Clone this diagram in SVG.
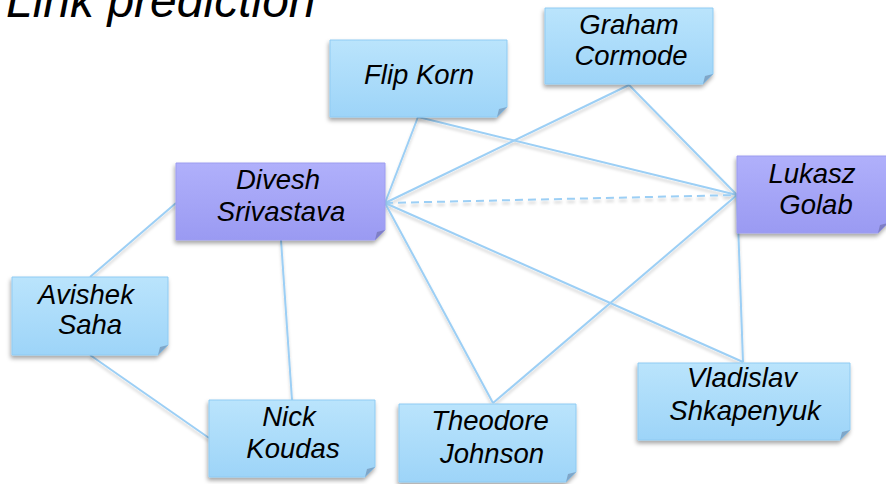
<svg xmlns="http://www.w3.org/2000/svg" width="886" height="484" viewBox="0 0 886 484">
  <defs>
    <linearGradient id="gBlue" x1="0" y1="0" x2="0" y2="1">
      <stop offset="0" stop-color="#bae4fc"/>
      <stop offset="1" stop-color="#9dd4f8"/>
    </linearGradient>
    <linearGradient id="gPurple" x1="0" y1="0" x2="0" y2="1">
      <stop offset="0" stop-color="#b0b0fb"/>
      <stop offset="1" stop-color="#9a9af2"/>
    </linearGradient>
    <filter id="boxShadow" x="-10%" y="-10%" width="120%" height="130%">
      <feDropShadow dx="-1" dy="3" stdDeviation="2" flood-color="#000" flood-opacity="0.35"/>
    </filter>
    <filter id="lineShadow" x="-5%" y="-5%" width="110%" height="115%">
      <feDropShadow dx="0" dy="3" stdDeviation="1.5" flood-color="#000" flood-opacity="0.18"/>
    </filter>
  </defs>
  <style>
    .edge { stroke: #9ccff5; stroke-width: 2; fill: none; }
    .dash { stroke-dasharray: 8 5; }
    .blue { fill: url(#gBlue); stroke: #8fcbf3; stroke-width: 1; filter: url(#boxShadow); }
    .purple { fill: url(#gPurple); stroke: #9c9cf0; stroke-width: 1; filter: url(#boxShadow); }
    .foldB { fill: #7fa6c8; }
    .foldP { fill: #7f7fc4; }
    .label { font-family: "Liberation Sans", Arial, sans-serif; font-style: italic; font-size: 27.5px; fill: #000; text-anchor: middle; }
    .title { font-family: "Liberation Sans", Arial, sans-serif; font-style: italic; font-size: 48px; fill: #000; }
  </style>

  <rect width="886" height="484" fill="#fff"/>

  <text class="title" x="6" y="17">Link prediction</text>

  <g id="connectors" filter="url(#lineShadow)">
    <line class="edge" x1="385" y1="203" x2="418" y2="117"/>
    <line class="edge" x1="385" y1="203" x2="629" y2="85"/>
    <line class="edge dash" x1="385" y1="203" x2="737" y2="195"/>
    <line class="edge" x1="385" y1="203" x2="493" y2="403"/>
    <line class="edge" x1="385" y1="203" x2="743" y2="362"/>
    <line class="edge" x1="418" y1="117" x2="737" y2="195"/>
    <line class="edge" x1="629" y1="85" x2="737" y2="195"/>
    <line class="edge" x1="737" y1="195" x2="743" y2="362"/>
    <line class="edge" x1="493" y1="403" x2="737" y2="195"/>
    <line class="edge" x1="176" y1="203" x2="90" y2="277"/>
    <line class="edge" x1="281" y1="240" x2="292" y2="400"/>
    <line class="edge" x1="90" y1="355" x2="209" y2="438"/>
  </g>

  <g id="flip-korn">
    <path class="blue" d="M330,40 H507 V107 L497,117 H330 Z"/>
    <path class="foldB" d="M507,107 L497,117 L499,109 Z"/>
    <text class="label" x="419" y="84">Flip Korn</text>
  </g>

  <g id="graham-cormode">
    <path class="blue" d="M545,8 H713 V74 L703,84 H545 Z"/>
    <path class="foldB" d="M713,74 L703,84 L705,76 Z"/>
    <text class="label" x="629" y="34">Graham</text>
    <text class="label" x="631" y="65">Cormode</text>
  </g>

  <g id="divesh-srivastava">
    <path class="purple" d="M176,163 H385 V230 L375,240 H176 Z"/>
    <path class="foldP" d="M385,230 L375,240 L377,232 Z"/>
    <text class="label" x="278" y="189">Divesh</text>
    <text class="label" x="281" y="221">Srivastava</text>
  </g>

  <g id="lukasz-golab">
    <path class="purple" d="M737,156 H888 V223 L878,233 H737 Z"/>
    <path class="foldP" d="M888,223 L878,233 L880,225 Z"/>
    <text class="label" x="812" y="183">Lukasz</text>
    <text class="label" x="816" y="214">Golab</text>
  </g>

  <g id="avishek-saha">
    <path class="blue" d="M12,277 H168 V345 L158,355 H12 Z"/>
    <path class="foldB" d="M168,345 L158,355 L160,347 Z"/>
    <text class="label" x="86" y="304">Avishek</text>
    <text class="label" x="90" y="334">Saha</text>
  </g>

  <g id="nick-koudas">
    <path class="blue" d="M209,400 H375 V467 L365,477 H209 Z"/>
    <path class="foldB" d="M375,467 L365,477 L367,469 Z"/>
    <text class="label" x="289" y="426">Nick</text>
    <text class="label" x="293" y="458">Koudas</text>
  </g>

  <g id="theodore-johnson">
    <path class="blue" d="M399,404 H576 V472 L566,482 H399 Z"/>
    <path class="foldB" d="M576,472 L566,482 L568,474 Z"/>
    <text class="label" x="490" y="430">Theodore</text>
    <text class="label" x="492" y="463">Johnson</text>
  </g>

  <g id="vladislav-shkapenyuk">
    <path class="blue" d="M638,363 H850 V430 L840,440 H638 Z"/>
    <path class="foldB" d="M850,430 L840,440 L842,432 Z"/>
    <text class="label" x="742" y="387">Vladislav</text>
    <text class="label" x="745" y="420">Shkapenyuk</text>
  </g>
</svg>
